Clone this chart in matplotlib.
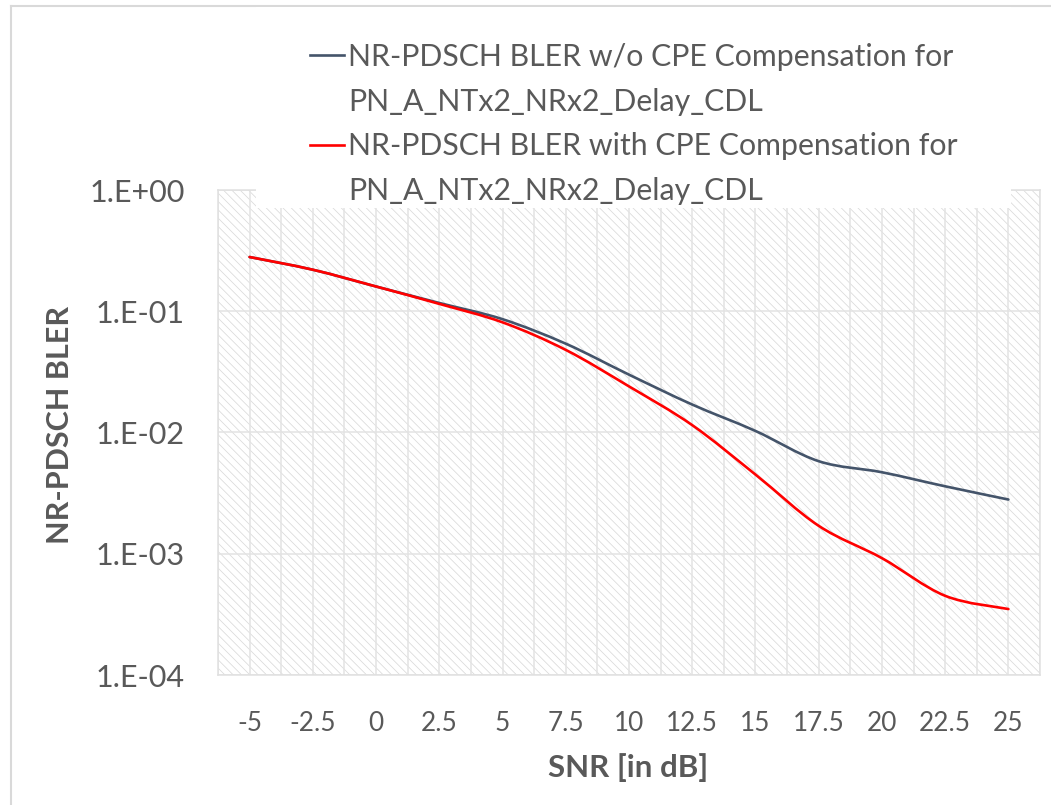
import numpy as np
import matplotlib
matplotlib.use("Agg")
import matplotlib.pyplot as plt
from matplotlib.path import Path
from matplotlib.patches import PathPatch, Rectangle
from matplotlib.lines import Line2D
from matplotlib.ticker import FixedLocator, FixedFormatter, NullLocator

# ---- data ----
snr = [-5, -2.5, 0, 2.5, 5, 7.5, 10, 12.5, 15, 17.5, 20, 22.5, 25]
x_tick_labels = ["-5", "-2.5", "0", "2.5", "5", "7.5", "10", "12.5", "15",
                 "17.5", "20", "22.5", "25"]
bler_wo_cpe = [0.28, 0.22, 0.16, 0.117, 0.086, 0.054, 0.030, 0.017, 0.0103,
               0.0058, 0.0047, 0.0036, 0.0028]
bler_with_cpe = [0.28, 0.22, 0.16, 0.115, 0.081, 0.048, 0.024, 0.0115, 0.0045,
                 0.0017, 0.00092, 0.00045, 0.00035]
y_tick_values = [1e-4, 1e-3, 1e-2, 1e-1, 1e0]
y_tick_labels = ["1.E-04", "1.E-03", "1.E-02", "1.E-01", "1.E+00"]
series_labels = ["NR-PDSCH BLER w/o CPE Compensation for",
                 "NR-PDSCH BLER with CPE Compensation for"]
series_sublabel = "PN_A_NTx2_NRx2_Delay_CDL"
x_title = "SNR [in dB]"
y_title = "NR-PDSCH BLER"

# ---- style ----
FONT = ["Lato", "DejaVu Sans"]
plt.rcParams["font.family"] = FONT
TXT = "#595959"
C_BLUE = "#44546A"
C_RED = "#FF0000"
plt.rcParams["hatch.linewidth"] = 0.55

W, H = 1051, 805
PX = 72 / 100  # points per pixel
fig = plt.figure(figsize=(W / 100, H / 100), dpi=100)
L, R, T, B = 218, 1040, 190, 675
ax = fig.add_axes([L / W, 1 - B / H, (R - L) / W, (B - T) / H])
ax.set_yscale("log")
ax.set_xlim(-6.25, 26.25)
ax.set_ylim(1e-4, 1e0)

# hatched plot area
ax.add_patch(Rectangle((0, 0), 1, 1, transform=ax.transAxes, facecolor="white",
                       edgecolor="#dadada", hatch="\\\\\\\\", lw=0, zorder=0))
ax.set_facecolor("white")

# grid
for xv in np.arange(-6.25, 26.26, 1.25):
    ax.axvline(xv, color="#e3e3e3", lw=1.1, zorder=1)
for yv in y_tick_values:
    ax.axhline(yv, color="#e3e3e3", lw=1.1, zorder=1)
for s in ax.spines.values():
    s.set_color("#e0e0e0")
    s.set_linewidth(1.1)


def smooth_path(x, y):
    x = np.asarray(x, float)
    ly = np.log10(np.asarray(y, float))
    n = len(x)
    verts = [(x[0], 10 ** ly[0])]
    codes = [Path.MOVETO]
    for i in range(n - 1):
        p0 = (x[max(i - 1, 0)], ly[max(i - 1, 0)])
        p1 = (x[i], ly[i])
        p2 = (x[i + 1], ly[i + 1])
        p3 = (x[min(i + 2, n - 1)], ly[min(i + 2, n - 1)])
        c1 = (p1[0] + (p2[0] - p0[0]) / 6, p1[1] + (p2[1] - p0[1]) / 6)
        c2 = (p2[0] - (p3[0] - p1[0]) / 6, p2[1] - (p3[1] - p1[1]) / 6)
        for c in (c1, c2, p2):
            verts.append((c[0], 10 ** c[1]))
            codes.append(Path.CURVE4)
    return Path(verts, codes)


for yvals, col in ((bler_wo_cpe, C_BLUE), (bler_with_cpe, C_RED)):
    ax.add_patch(PathPatch(smooth_path(snr, yvals), fill=False, edgecolor=col,
                           lw=1.9, capstyle="round", joinstyle="round", zorder=3))

# ticks
ax.xaxis.set_major_locator(FixedLocator(snr))
ax.xaxis.set_major_formatter(FixedFormatter(x_tick_labels))
ax.yaxis.set_major_locator(FixedLocator(y_tick_values))
ax.yaxis.set_major_formatter(FixedFormatter(y_tick_labels))
ax.yaxis.set_minor_locator(NullLocator())
ax.tick_params(axis="both", length=0, colors=TXT)
ax.tick_params(axis="x", labelsize=18.8, pad=36 * PX)
ax.tick_params(axis="y", labelsize=22, pad=33 * PX)

ax.set_xlabel(x_title, fontsize=22.5, fontweight="bold", color=TXT, va="center")
ax.set_ylabel(y_title, fontsize=22, fontweight="bold", color=TXT, va="center")
ax.xaxis.set_label_coords((628 - L) / (R - L), (B - 768) / (B - T))
ax.yaxis.set_label_coords((60 - L) / (R - L), (B - 425) / (B - T))

# legend background (white box overlapping plot top)
fig.patches.append(Rectangle((256 / W, 1 - 208 / H), (1011 - 256) / W, (208 - 7) / H,
                             transform=fig.transFigure, facecolor="white",
                             edgecolor="none", zorder=2))
# chart border (left & top)
fig.add_artist(Line2D([11 / W, 11 / W], [0, 1 - 6 / H], color="#d9d9d9", lw=1.5,
                      transform=fig.transFigure))
fig.add_artist(Line2D([11 / W, 1], [1 - 6 / H, 1 - 6 / H], color="#d9d9d9", lw=1.5,
                      transform=fig.transFigure))

handles = [Line2D([], [], color=C_BLUE, lw=1.9),
           Line2D([], [], color="none"),
           Line2D([], [], color=C_RED, lw=1.9),
           Line2D([], [], color="none")]
labels = [series_labels[0], series_sublabel, series_labels[1], series_sublabel]
leg = fig.legend(handles, labels, loc="upper left",
                 bbox_to_anchor=(310 / W, 1 - 43 / H), frameon=False,
                 fontsize=21.8, handlelength=1.12, handletextpad=0.13,
                 labelspacing=0.55, borderaxespad=0, borderpad=0,
                 labelcolor=TXT)
leg.set_zorder(3)

fig.savefig("out.png", dpi=100)
